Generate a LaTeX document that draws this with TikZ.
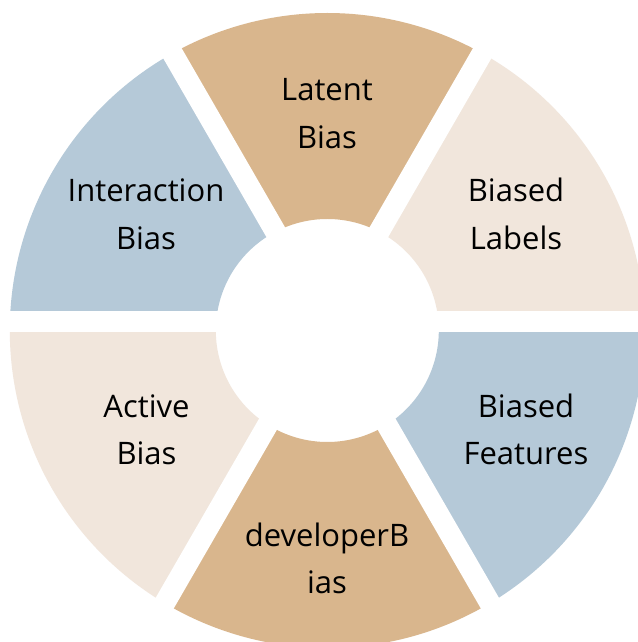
\documentclass[tikz,border=0pt]{standalone}
\usepackage{fontspec}
\setmainfont{Open Sans}
\usetikzlibrary{calc}
\definecolor{tanseg}{HTML}{D9B68D}
\definecolor{blueseg}{HTML}{B5C9D8}
\definecolor{beigeseg}{HTML}{F1E6DC}
\begin{document}
\begin{tikzpicture}[x=1pt, y=1pt,
    seglabel/.style={align=center, font=\fontsize{31}{47.7}\selectfont, anchor=base},
    gap/.style={white, line width=21pt}]
    \useasboundingbox (0,0) rectangle (637,642);
    \fill[white] (0,0) rectangle (637,642);
    \coordinate (o) at (327.3,311.5);
    \coordinate (g) at (327.3,320.5);
    \foreach \a/\c [evaluate=\a as \b using \a+60] in {0/beigeseg, 60/tanseg, 120/blueseg, 180/beigeseg, 240/tanseg, 300/blueseg}
        \fill[\c] ([shift={(\a:317.5)}]o) arc[start angle=\a, end angle=\b, radius=317.5]
            -- ([shift={(\b:111.5)}]o) arc[start angle=\b, end angle=\a, radius=111.5] -- cycle;
    \foreach \a [evaluate=\a as \b using \a+180] in {0,60,120}
        \draw[gap] ([shift={(\a:420)}]g) -- ([shift={(\b:420)}]g);
    \node[seglabel] (latent) at (327,493.3) {Latent\\Bias};
    \node[seglabel] (interaction) at (146,392.8) {Interaction\\Bias};
    \node[seglabel] (labels) at (516,392.8) {Biased\\Labels};
    \node[seglabel] (active) at (146.5,177) {Active\\Bias};
    \node[seglabel] (features) at (526,177) {Biased\\Features};
    \node[seglabel] (developer) at (327,48.3) {developerB\\ias};
\end{tikzpicture}
\end{document}
